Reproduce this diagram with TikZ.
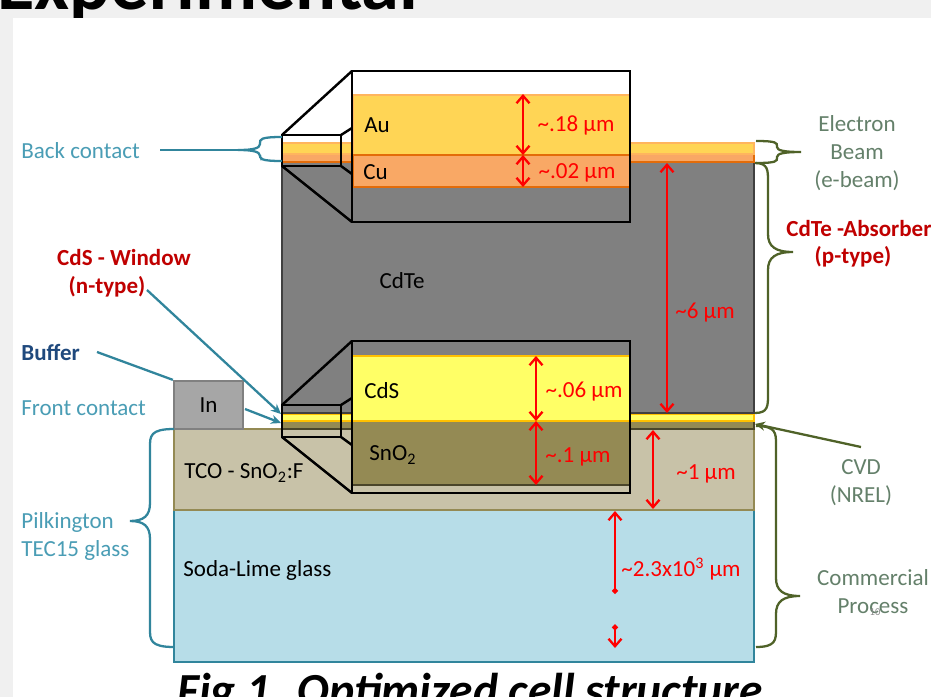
\documentclass[tikz,border=0pt]{standalone}
\usepackage{fontspec}
\setmainfont{Carlito}
\usetikzlibrary{arrows.meta}
\def\sidebrace[#1](#2:#3:#4)(#5:#6:#7)(#8){\draw[#1] (#2,#3) .. controls (#5,#3) and (#5,{#3+0.4*#8}) .. (#5,{#3+#8}) -- (#5,{#7-#8}) .. controls (#5,{#7-0.3*#8}) and ({#5+0.3*(#6-#5)},#7) .. (#6,#7) .. controls ({#5+0.3*(#6-#5)},#7) and (#5,{#7+0.3*#8}) .. (#5,{#7+#8}) -- (#5,{#4-#8}) .. controls (#5,{#4-0.4*#8}) and (#5,#4) .. (#2,#4);}
\definecolor{slidegray}{HTML}{F0F0F0}
\definecolor{tealtext}{HTML}{4A9DB5}
\definecolor{tealline}{HTML}{31859C}
\definecolor{olivetext}{HTML}{64806A}
\definecolor{oliveline}{HTML}{4F6228}
\definecolor{darkred}{HTML}{C00000}
\definecolor{navy}{HTML}{1F497D}
\definecolor{gold}{HTML}{FFD555}
\definecolor{goldedge}{HTML}{FFB55E}
\definecolor{copper}{HTML}{F9A865}
\definecolor{copperedge}{HTML}{E36C0A}
\definecolor{cdsyellow}{HTML}{FFFF66}
\definecolor{cdsedge}{HTML}{FFC000}
\definecolor{snolive}{HTML}{948A54}
\definecolor{snedge}{HTML}{4A452A}
\definecolor{tco}{HTML}{C8C2A8}
\definecolor{sodalime}{HTML}{B7DDE8}
\tikzset{
	lbl/.style={inner sep=0pt, font=\fontsize{13.1}{15}\selectfont, text=#1},
	lbl/.default=black,
	boldlbl/.style={inner sep=0pt, font=\fontsize{13.1}{15}\selectfont\bfseries, text=#1},
	sizelbl/.style={inner sep=0pt, font=\fontsize{13.1}{15}\selectfont, text=red},
	zoombox/.style={draw=black, line width=1.4pt},
	sizearrow/.style={draw=red, line width=1.3pt, {Straight Barb[length=1.5mm,width=2.6mm]}-{Straight Barb[length=1.5mm,width=2.6mm]}},
	sizecut/.style={draw=red, line width=1.3pt, {Straight Barb[length=1.5mm,width=2.6mm]}-{Diamond[length=1.3mm,width=1.3mm]}},
	sizecutb/.style={draw=red, line width=1.3pt, {Diamond[length=1.3mm,width=1.3mm]}-{Straight Barb[length=1.5mm,width=2.6mm]}},
	tealarrow/.style={draw=tealline, line width=1.3pt, -{Stealth[length=2mm,width=1.8mm]}},
}

\begin{document}
\begin{tikzpicture}[x=0.02cm, y=-0.02cm]
		%%%%% START %%%%%
		\useasboundingbox (0, 0) rectangle (931, 697);
		\clip (0, 0) rectangle (931, 697);
		
		\fill[slidegray] (0, 0) rectangle (931, 697);
		\node[anchor=base west, inner sep=0pt, font=\fontsize{43.5}{50}\selectfont\bfseries] (title) at (-3, 9) {Experimental};
		\fill[white] (13, 18) rectangle (931, 697);
		
		% cell layers
		\draw[fill=sodalime, draw=tealline, line width=1.5pt] (174, 510) rectangle (754, 662);
		\draw[fill=tco, draw=snolive, line width=1.3pt] (174, 429) rectangle (754, 510);
		\draw[fill=snolive, draw=snedge, line width=1pt] (282, 421) rectangle (754, 429);
		\draw[fill=cdsyellow, draw=cdsedge, line width=1pt] (282, 414) rectangle (754, 421);
		\draw[fill=gray, draw=black!75, line width=1.3pt] (282, 162) rectangle (754, 413);
		\draw[fill=copper, draw=copperedge, line width=1.3pt] (282, 154) rectangle (754, 162);
		\draw[fill=gold, draw=goldedge, line width=1.3pt] (282, 143) rectangle (754, 154);
		\node[draw=black!50, fill=black!35, line width=1.3pt, minimum width=1.38cm, minimum height=0.96cm, inner sep=0pt, font=\fontsize{13.1}{15}\selectfont] (indium) at (208.5, 405) {In};
		
		% top zoom
		\draw[zoombox] (282, 135) -- (352, 71);
		\draw[zoombox] (282, 166) -- (352, 222);
		\draw[zoombox] (341, 135) -- (352, 128);
		\draw[zoombox] (341, 166) -- (352, 174);
		\draw[zoombox] (282, 135) rectangle (341, 166);
		\fill[white] (352, 71) rectangle (630, 94);
		\fill[gray] (352, 187) rectangle (630, 222);
		\draw[fill=gold, draw=goldedge, line width=1.1pt] (353, 95) rectangle (630, 155);
		\draw[fill=copper, draw=copperedge, line width=1.3pt] (353, 155) rectangle (630, 187);
		\draw[zoombox] (352, 71) rectangle (630, 222);
		
		% bottom zoom
		\draw[zoombox] (282, 405) -- (352, 341);
		\draw[zoombox] (282, 437) -- (352, 493);
		\draw[zoombox] (341, 405) -- (352, 398);
		\draw[zoombox] (341, 437) -- (352, 445);
		\draw[zoombox] (282, 405) rectangle (341, 437);
		\fill[gray] (352, 341) rectangle (630, 356);
		\fill[tco] (352, 485) rectangle (630, 493);
		\draw[fill=snolive, draw=snedge, line width=1pt] (352, 421) rectangle (630, 485);
		\draw[fill=cdsyellow, draw=cdsedge, line width=1.1pt] (352, 356) rectangle (630, 421);
		\draw[zoombox] (352, 341) rectangle (630, 493);
		
		% layer names
		\node[lbl, anchor=west] (au) at (364, 125) {Au};
		\node[lbl, anchor=west] (cu) at (363, 172) {Cu};
		\node[lbl] (cdte) at (402, 281) {CdTe};
		\node[lbl, anchor=west] (cds) at (364, 391) {CdS};
		\node[lbl, anchor=west] (sno) at (369, 455) {SnO\textsubscript{2}};
		\node[lbl, anchor=west] (tcolbl) at (184, 473) {TCO - SnO\textsubscript{2}:F};
		\node[lbl, anchor=west] (glasslbl) at (183, 570) {Soda-Lime glass};
		
		% thickness arrows
		\draw[sizearrow] (523, 94) -- (523, 155);
		\draw[sizearrow] (523, 155) -- (523, 187);
		\draw[sizearrow] (667, 163) -- (667, 413);
		\draw[sizearrow] (536, 356) -- (536, 421);
		\draw[sizearrow] (536, 421) -- (536, 485);
		\draw[sizearrow] (653, 430) -- (653, 509);
		\draw[sizecut] (615, 511) -- (615, 594);
		\draw[sizecutb] (615, 624) -- (615, 648);
		\node[sizelbl] (authick) at (576, 125) {\textasciitilde.18 µm};
		\node[sizelbl] (cuthick) at (577, 173) {\textasciitilde.02 µm};
		\node[sizelbl] (cdtethick) at (705, 313) {\textasciitilde6 µm};
		\node[sizelbl] (cdsthick) at (584, 392) {\textasciitilde.06 µm};
		\node[sizelbl] (snothick) at (578, 457) {\textasciitilde.1 µm};
		\node[sizelbl] (tcothick) at (706, 474) {\textasciitilde1 µm};
		\node[sizelbl] (glassthick) at (681, 569) {\textasciitilde2.3x10\textsuperscript{3} µm};
		
		% left side
		\node[lbl=tealtext, anchor=west] (backlbl) at (21, 151) {Back contact};
		\node[boldlbl=darkred] (windowlbl) at (124, 258) {CdS - Window};
		\node[boldlbl=darkred] (ntype) at (107, 287) {(n-type)};
		\node[boldlbl=navy, anchor=west] (bufferlbl) at (21, 352) {Buffer};
		\node[lbl=tealtext, anchor=west] (frontlbl) at (21, 408) {Front contact};
		\node[lbl=tealtext, anchor=west] (pilklbl) at (21, 522) {Pilkington};
		\node[lbl=tealtext, anchor=west] (teclbl) at (21, 550) {TEC15 glass};
		
		\coordinate (backend) at (246, 150);
		\coordinate (windowend) at (147, 290);
		\coordinate (bufferend) at (97, 352);
		\coordinate (frontend) at (245, 409);
		\coordinate (cdsmark) at (281, 414);
		\coordinate (snomark) at (281, 423);
		\draw[tealline, line width=1.3pt] (backend) -- ++(-86, 0);
		\sidebrace[tealline, line width=1.3pt](282:137:161)(260:238:150)(6)
		\draw[tealarrow] (windowend) -- (cdsmark);
		\draw[tealline, line width=1.3pt] (bufferend) -- (indium.north west);
		\draw[tealarrow] (frontend) -- (snomark);
		\sidebrace[tealline, line width=1.3pt](174:429:647)(150:130:521)(18)
		
		% right side
		\node[lbl=olivetext] (elec) at (857, 124) {Electron};
		\node[lbl=olivetext] (beam) at (857, 152) {Beam};
		\node[lbl=olivetext] (ebeam) at (857, 181) {(e-beam)};
		\node[boldlbl=darkred, anchor=west] (cdtelbl) at (786, 229) {CdTe -Absorber};
		\node[boldlbl=darkred] (ptype) at (853, 257) {(p-type)};
		\node[lbl=olivetext] (cvd) at (861, 467) {CVD};
		\node[lbl=olivetext] (nrel) at (861, 496) {(NREL)};
		\node[lbl=olivetext] (comm) at (873, 578) {Commercial};
		\node[lbl=olivetext] (proc) at (873, 606) {Process};
		\node[inner sep=0pt, font=\fontsize{6}{7}\selectfont, text=black!45] (pagenum) at (875, 612) {10};
		
		\coordinate (cvdend) at (861, 447);
		\coordinate (cvdmark) at (755, 424);
		\sidebrace[oliveline, line width=1.3pt](756:141:163)(777:801:152)(5)
		\sidebrace[oliveline, line width=1.3pt](755:163:413)(768:793:252)(18)
		\sidebrace[oliveline, line width=1.3pt](756:426:647)(776:800:596)(18)
		\draw[oliveline, line width=1.3pt, -{Stealth[length=2mm,width=1.8mm]}] (cvdend) -- (cvdmark);
		
		\node[anchor=base, inner sep=0pt, font=\fontsize{27}{30}\selectfont\bfseries\itshape] (caption) at (470, 706) {Fig 1. Optimized cell structure};
		%%%%% END %%%%%
	\end{tikzpicture}
\end{document}
